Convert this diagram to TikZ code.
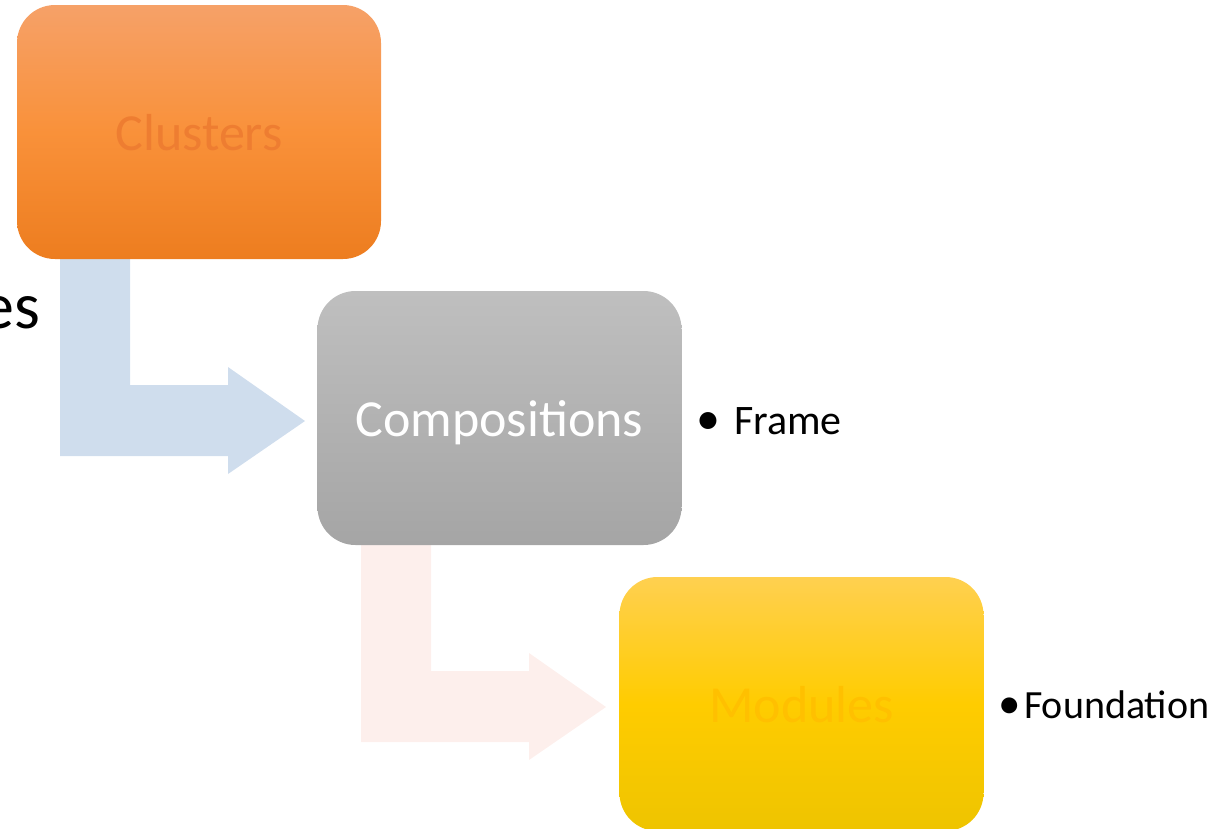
\documentclass[tikz,border=0pt]{standalone}
\usepackage{fontspec}
\setmainfont{Carlito}
\usetikzlibrary{calc}

\definecolor{orTop}{RGB}{246,161,104}
\definecolor{orMid}{RGB}{249,145,58}
\definecolor{orBot}{RGB}{237,125,31}
\definecolor{orText}{RGB}{238,125,49}
\definecolor{grTop}{RGB}{191,191,191}
\definecolor{grMid}{RGB}{178,178,178}
\definecolor{grBot}{RGB}{165,165,165}
\definecolor{ylTop}{RGB}{255,208,80}
\definecolor{ylMid}{RGB}{255,204,0}
\definecolor{ylBot}{RGB}{238,196,0}
\definecolor{ylText}{RGB}{255,192,0}
\definecolor{arBlue}{RGB}{207,221,237}
\definecolor{arPink}{RGB}{253,239,236}

\tikzset{
  stagebox/.style={rectangle, rounded corners=38pt, minimum width=364pt,
    minimum height=254pt, inner sep=0pt, text height=36pt, text depth=0pt,
    font=\fontsize{52}{60}\selectfont},
  bullettext/.style={anchor=base west, inner sep=0pt, text=black},
}

\begin{document}
\begin{tikzpicture}[x=1pt,y=-1pt]
\useasboundingbox (0,0) rectangle (1221,828);
\clip (0,0) rectangle (1221,828);

% bent arrows running from one stage to the next
\fill[arBlue] (60,240) -- (130,240) -- (130,385) -- (228,385) -- (228,367)
  -- (305,421) -- (228,474) -- (228,456) -- (60,456) -- cycle;
\fill[arPink] (361,526) -- (431,526) -- (431,671) -- (529,671) -- (529,653)
  -- (606,707) -- (529,760) -- (529,742) -- (361,742) -- cycle;

% stages
\node[stagebox, top color=orTop, bottom color=orBot, middle color=orMid,
  text=orText] (clusters) at (199,132) {Clusters};
\node[stagebox, top color=grTop, bottom color=grBot, middle color=grMid,
  text=white] (compositions) at (499.5,418) {Compositions};
\node[stagebox, top color=ylTop, bottom color=ylBot, middle color=ylMid,
  text=ylText] (modules) at (801.5,704) {Modules};

% side notes
\node[bullettext, font=\fontsize{42}{50}\selectfont] (frame) at (696,434)
  {{\fontsize{48}{48}\selectfont •}\hspace{14pt}Frame};
\node[bullettext, font=\fontsize{40}{48}\selectfont] (foundation) at (998,718)
  {{\fontsize{45}{45}\selectfont •}\hspace{3.5pt}Foundation};

% trailing word at the left edge
\node[anchor=base east, inner sep=0pt, font=\fontsize{66}{76}\selectfont]
  (es) at (40,328) {es};
\end{tikzpicture}
\end{document}
